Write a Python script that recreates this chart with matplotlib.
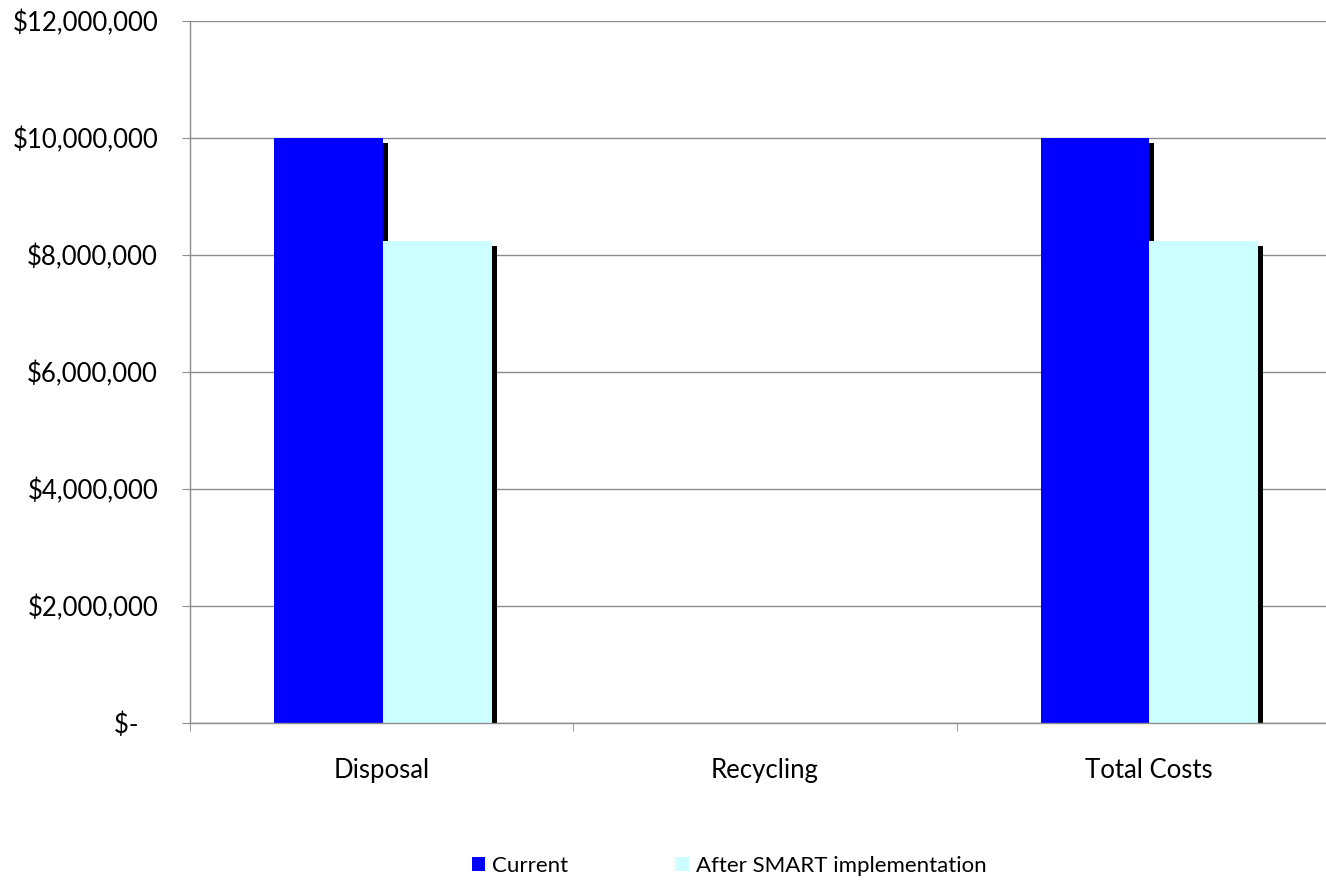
import matplotlib
matplotlib.use("Agg")
import matplotlib.pyplot as plt
import matplotlib.patheffects as pe
from matplotlib.patches import Patch
import numpy as np
from matplotlib.ticker import FuncFormatter

categories = ["Disposal", "Recycling", "Total Costs"]
current = [10000000, 0, 10000000]
after_smart = [8240000, 0, 8240000]
series_names = ["Current", "After SMART implementation"]
colors = ["#0000FF", "#CCFFFF"]

plt.rcParams['font.family'] = ['Lato', 'DejaVu Sans']

fig = plt.figure(figsize=(13.26, 8.83), dpi=100)
ax = fig.add_axes([190/1326, 1-723/883, 1150/1326, (723-21)/883])

x = np.arange(len(categories))
w = 0.284
shadow = [pe.SimplePatchShadow(offset=(3.5, -3.5), shadow_rgbFace='black', alpha=1.0), pe.Normal()]
for i, (vals, c, name) in enumerate(zip([current, after_smart], colors, series_names)):
    bars = ax.bar(x + (i - 0.5) * w + 0.003, vals, width=w, color=c, zorder=3, linewidth=0)
    for b in bars:
        if b.get_height() > 0:
            b.set_path_effects(shadow)

ax.set_xlim(-0.5, 2.5)
ax.set_ylim(0, 12000000)
ax.set_yticks(np.arange(0, 12000001, 2000000))

def fmt(v, pos):
    if v == 0:
        return "$-   "
    return "${:,.0f}".format(v)
ax.yaxis.set_major_formatter(FuncFormatter(fmt))
ax.grid(axis='y', color='#8c8c8c', linewidth=1.0, zorder=0)
ax.set_axisbelow(True)

ax.set_xticks(x)
ax.set_xticklabels(categories)
ax.set_xticks([-0.5, 0.5, 1.5, 2.5], minor=True)
ax.tick_params(axis='x', which='major', length=0, pad=25, labelsize=18.5)
ax.tick_params(axis='x', which='minor', length=6, color='#8c8c8c', direction='out')
ax.tick_params(axis='y', length=6, color='#8c8c8c', direction='out', labelsize=18.5, pad=17)

for s in ['top', 'right']:
    ax.spines[s].set_visible(False)
for s in ['left', 'bottom']:
    ax.spines[s].set_color('#8c8c8c')
    ax.spines[s].set_linewidth(1.0)
ax.spines['bottom'].set_zorder(4)

handles = [Patch(facecolor=c, edgecolor='none', label=n) for c, n in zip(colors, series_names)]
leg = fig.legend(handles=handles, loc='center left', bbox_to_anchor=(472/1326, 1-866/883), ncol=2,
                 frameon=False, fontsize=16, handlelength=0.6, handleheight=0.6, handletextpad=0.32,
                 columnspacing=4.8, borderpad=0, borderaxespad=0)

fig.savefig("out.png", dpi=100)
